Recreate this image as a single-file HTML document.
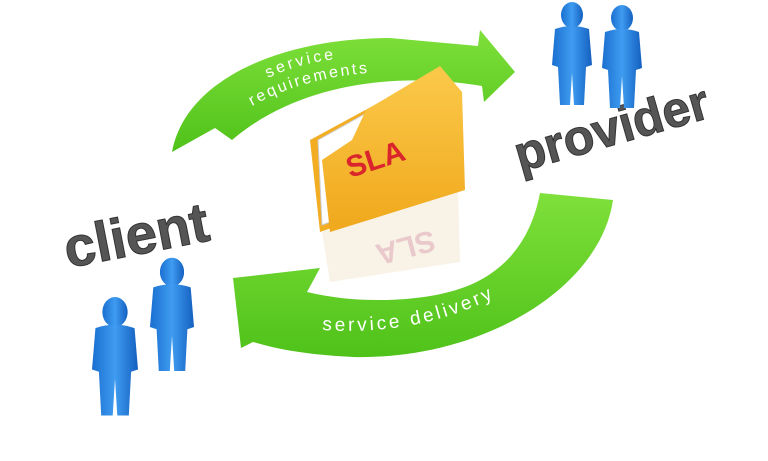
<!DOCTYPE html>
<html><head><style>
html,body{margin:0;padding:0;background:#fff;}
svg{display:block;}
</style></head><body>
<svg width="768" height="461" viewBox="0 0 768 461" xmlns="http://www.w3.org/2000/svg">
<defs>
<linearGradient id="g" x1="0" y1="0" x2="0" y2="1"><stop offset="0" stop-color="#7fe03a"/><stop offset="1" stop-color="#4fc21a"/></linearGradient>
<linearGradient id="b" x1="0" y1="0" x2="1" y2="0"><stop offset="0" stop-color="#1a6fd0"/><stop offset="0.5" stop-color="#3f9cf0"/><stop offset="1" stop-color="#1460c0"/></linearGradient>
<linearGradient id="y" x1="0" y1="0" x2="0" y2="1"><stop offset="0" stop-color="#fbc94a"/><stop offset="1" stop-color="#f0a81c"/></linearGradient>
<path id="t1" d="M268,78 Q315,55 380,58"/>
<path id="t2" d="M252,106 Q320,68 420,72"/>
<path id="t3" d="M322,330 Q470,340 578,238"/>
<g id="man">
<ellipse cx="0" cy="0" rx="11" ry="13"/>
<path d="M-17,14 Q0,8 17,14 L20,50 L14,52 L12,90 L2,90 L0,58 L-2,90 L-12,90 L-14,52 L-20,50 Z"/>
</g>
</defs>
<path d="M322,232 L458,190 L460,262 L330,282 Z" fill="#f7efe0" opacity="0.8"/>
<text font-family="Liberation Sans, sans-serif" font-size="30" font-weight="bold" fill="#e9c9cc" transform="translate(432,230) rotate(165)">SLA</text>
<path d="M172,152 C185,80 280,38 390,38 L478,46 L480,30 L515,72 L484,102 L482,86 C400,72 300,82 232,140 L215,128 Z" fill="url(#g)"/>
<text font-family="Liberation Sans, sans-serif" font-size="16" fill="#fff" letter-spacing="3"><textPath href="#t1">service</textPath></text>
<text font-family="Liberation Sans, sans-serif" font-size="16" fill="#fff" letter-spacing="2.5"><textPath href="#t2">requirements</textPath></text>
<path d="M613,200 C600,290 480,360 353,357 C310,355 280,350 253,342 L241,348 L233,278 L320,268 L307,292 C360,305 430,302 470,285 C510,268 532,235 540,193 Z" fill="url(#g)"/>
<text font-family="Liberation Sans, sans-serif" font-size="19" fill="#fff" letter-spacing="3"><textPath href="#t3">service delivery</textPath></text>
<path d="M310,140 L430,75 L450,80 L455,185 L320,232 Z" fill="#f2ad22"/>
<path d="M318,140 L440,72 L448,178 L322,225 Z" fill="#fff" stroke="#ccc"/>
<path d="M366,110 L440,66 L462,92 L465,190 L330,232 L322,160 L352,140 Z" fill="url(#y)"/>
<text font-family="Liberation Sans, sans-serif" font-size="30" font-weight="bold" fill="#d9252b" transform="translate(350,178) rotate(-18)">SLA</text>
<text font-family="Liberation Sans, sans-serif" font-size="56" font-weight="bold" fill="#555" stroke="#333" stroke-width="1" transform="translate(68,268) rotate(-11)">client</text>
<text font-family="Liberation Sans, sans-serif" font-size="50" font-weight="bold" fill="#555" stroke="#333" stroke-width="1" transform="translate(520,172) rotate(-16)">provider</text>
<g fill="url(#b)">
<use href="#man" transform="translate(572,15)"/>
<use href="#man" transform="translate(622,18)"/>
<use href="#man" transform="translate(115,312) scale(1.15)"/>
<use href="#man" transform="translate(172,272) scale(1.1)"/>
</g>
</svg>
</body></html>
